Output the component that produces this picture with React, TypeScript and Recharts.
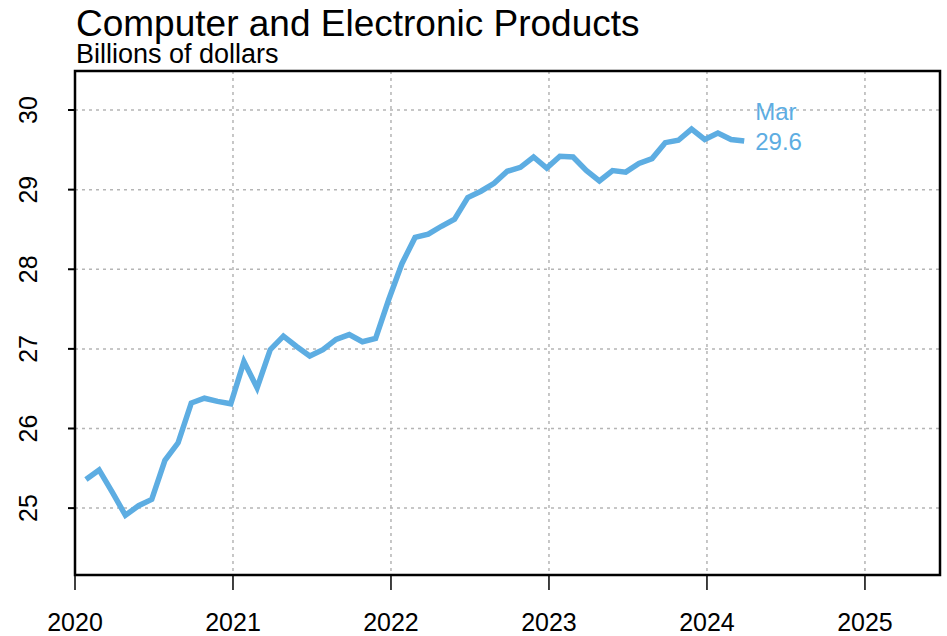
import React from "react";
import {
  CartesianGrid,
  Line,
  LineChart,
  ReferenceArea,
  XAxis,
  YAxis,
} from "recharts";

const months = [
  "2020-01", "2020-02", "2020-03", "2020-04", "2020-05", "2020-06",
  "2020-07", "2020-08", "2020-09", "2020-10", "2020-11", "2020-12",
  "2021-01", "2021-02", "2021-03", "2021-04", "2021-05", "2021-06",
  "2021-07", "2021-08", "2021-09", "2021-10", "2021-11", "2021-12",
  "2022-01", "2022-02", "2022-03", "2022-04", "2022-05", "2022-06",
  "2022-07", "2022-08", "2022-09", "2022-10", "2022-11", "2022-12",
  "2023-01", "2023-02", "2023-03", "2023-04", "2023-05", "2023-06",
  "2023-07", "2023-08", "2023-09", "2023-10", "2023-11", "2023-12",
  "2024-01", "2024-02", "2024-03",
];

const values = [
  25.36, 25.48, 25.2, 24.91, 25.03, 25.11, 25.6, 25.82, 26.32, 26.38, 26.34, 26.31,
  26.84, 26.51, 26.99, 27.16, 27.03, 26.91, 26.99, 27.12, 27.18, 27.09, 27.13, 27.62,
  28.07, 28.4, 28.44, 28.54, 28.63, 28.9, 28.98, 29.08, 29.23, 29.28, 29.41, 29.27,
  29.42, 29.41, 29.24, 29.11, 29.24, 29.22, 29.33, 29.39, 29.59, 29.62, 29.76, 29.63,
  29.71, 29.63, 29.61,
];

const xTicks = [2020, 2021, 2022, 2023, 2024, 2025];
const yTicks = [25, 26, 27, 28, 29, 30];

const lastLabel = "Mar";

const X_MIN = 2020;
const X_MAX = 2025.475;
const Y_MIN = 24.16;
const Y_MAX = 30.49;

const BLUE = "#5DADE2";
const FONT = "'Liberation Sans', Arial, sans-serif";

// monthly points sit late in their month
const data = months.map((m, i) => {
  const [y, mo] = m.split("-").map(Number);
  return { t: y + (mo - 1 + 0.83) / 12, value: values[i] };
});

const YTick = (props: any) => {
  const { x, y, payload } = props;
  return (
    <text
      transform={`translate(${x - 29}, ${y}) rotate(-90)`}
      textAnchor="middle"
      fontSize={25}
      fill="#000"
      fontFamily={FONT}
    >
      {payload.value}
    </text>
  );
};

const EndLabel = (props: any) => {
  const { x, y, index, value } = props;
  if (index !== data.length - 1) return null;
  return (
    <g fontFamily={FONT} fontSize={24} fill={BLUE}>
      <text x={x + 11} y={y - 21}>{lastLabel}</text>
      <text x={x + 11} y={y + 9}>{Number(value).toFixed(1)}</text>
    </g>
  );
};

export default function App() {
  return (
    <div style={{ position: "absolute", left: 0, top: 0, width: 947, height: 636, background: "#fff" }}>
      <svg width={947} height={80} style={{ position: "absolute", left: 0, top: 0 }}>
        <text x={76} y={36} fontSize={37} fontFamily={FONT} fill="#000">
          Computer and Electronic Products
        </text>
        <text x={76} y={63} fontSize={27} fontFamily={FONT} fill="#000">
          Billions of dollars
        </text>
      </svg>
      <div style={{ position: "absolute", left: 0, top: 0 }}>
        <LineChart
          width={947}
          height={636}
          data={data}
          margin={{ top: 71, right: 7, bottom: 0, left: 0 }}
          style={{ fontFamily: FONT }}
        >
          <CartesianGrid
            stroke="#b5b5b5"
            strokeDasharray="3 4"
            strokeWidth={1.5}
          />
          <XAxis
            dataKey="t"
            type="number"
            domain={[X_MIN, X_MAX]}
            ticks={xTicks}
            allowDataOverflow
            height={61}
            axisLine={false}
            tickLine={{ stroke: "#000", strokeWidth: 1.5 }}
            tickSize={15}
            tickMargin={23}
            tick={{ fontSize: 25, fill: "#000", fontFamily: FONT }}
          />
          <YAxis
            type="number"
            domain={[Y_MIN, Y_MAX]}
            ticks={yTicks}
            allowDataOverflow
            width={75}
            axisLine={false}
            tickLine={{ stroke: "#000", strokeWidth: 2 }}
            tickSize={7}
            tick={<YTick />}
          />
          <ReferenceArea
            x1={X_MIN}
            x2={X_MAX}
            y1={Y_MIN}
            y2={Y_MAX}
            fill="none"
            stroke="#000"
            strokeWidth={2.5}
            ifOverflow="visible"
          />
          <Line
            type="linear"
            dataKey="value"
            stroke={BLUE}
            strokeWidth={5.5}
            dot={false}
            isAnimationActive={false}
            label={<EndLabel />}
          />
        </LineChart>
      </div>
    </div>
  );
}
